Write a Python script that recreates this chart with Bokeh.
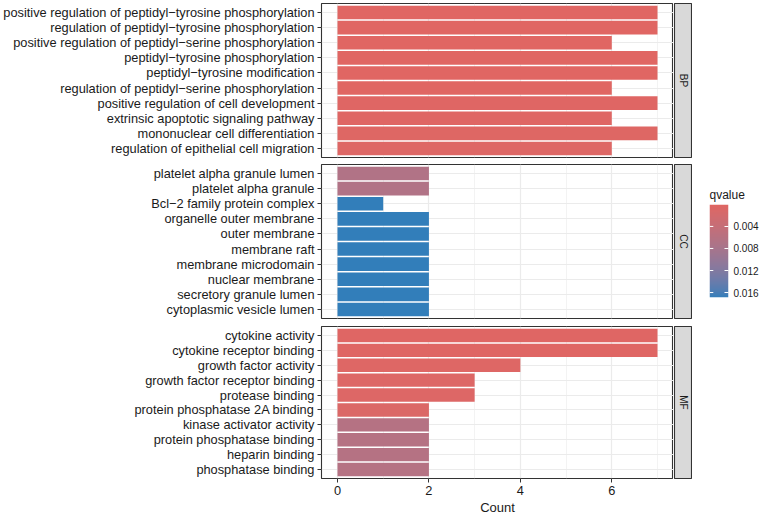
import numpy as np
from bokeh.plotting import figure
from bokeh.layouts import row, column
from bokeh.models import (ColumnDataSource, FactorRange, Range1d, LinearColorMapper,
                          FixedTicker, PrintfTickFormatter)
from bokeh.transform import transform
from bokeh.embed import file_html
from bokeh.resources import INLINE
from bokeh.core.properties import value

# ---- enrichment results (top to bottom within each ontology) ----
ontologies = ["BP", "CC", "MF"]

bp_terms = [
    "positive regulation of peptidyl\u2212tyrosine phosphorylation",
    "regulation of peptidyl\u2212tyrosine phosphorylation",
    "positive regulation of peptidyl\u2212serine phosphorylation",
    "peptidyl\u2212tyrosine phosphorylation",
    "peptidyl\u2212tyrosine modification",
    "regulation of peptidyl\u2212serine phosphorylation",
    "positive regulation of cell development",
    "extrinsic apoptotic signaling pathway",
    "mononuclear cell differentiation",
    "regulation of epithelial cell migration",
]
bp_count = [7, 7, 6, 7, 7, 6, 7, 6, 7, 6]
bp_qvalue = [0.00002, 0.00003, 0.00008, 0.00010, 0.00010, 0.00015, 0.00020, 0.00025, 0.00030, 0.00035]

cc_terms = [
    "platelet alpha granule lumen",
    "platelet alpha granule",
    "Bcl\u22122 family protein complex",
    "organelle outer membrane",
    "outer membrane",
    "membrane raft",
    "membrane microdomain",
    "nuclear membrane",
    "secretory granule lumen",
    "cytoplasmic vesicle lumen",
]
cc_count = [2, 2, 1, 2, 2, 2, 2, 2, 2, 2]
cc_qvalue = [0.0068, 0.0068, 0.0169, 0.0169, 0.0169, 0.0169, 0.0169, 0.0169, 0.0169, 0.0169]

mf_terms = [
    "cytokine activity",
    "cytokine receptor binding",
    "growth factor activity",
    "growth factor receptor binding",
    "protease binding",
    "protein phosphatase 2A binding",
    "kinase activator activity",
    "protein phosphatase binding",
    "heparin binding",
    "phosphatase binding",
]
mf_count = [7, 7, 4, 3, 3, 2, 2, 2, 2, 2]
mf_qvalue = [0.0002, 0.0002, 0.0004, 0.0006, 0.0006, 0.0008, 0.0062, 0.0062, 0.0062, 0.0062]

x_ticks = [0, 2, 4, 6]
x_minor_ticks = [1, 3, 5, 7]
qvalue_ticks = [0.004, 0.008, 0.012, 0.016]

LOW_COLOR = "#E06663"
HIGH_COLOR = "#327EBA"
FONT = "Liberation Sans"
TEXT_COLOR = "#1A1A1A"


# ---- gradient interpolated in CIE Lab space ----
_M = np.array([[0.4124564, 0.3575761, 0.1804375],
               [0.2126729, 0.7151522, 0.0721750],
               [0.0193339, 0.1191920, 0.9503041]])
_WHITE = np.array([0.95047, 1.0, 1.08883])


def _hex_to_rgb(h):
    h = h.lstrip("#")
    return np.array([int(h[i:i + 2], 16) for i in (0, 2, 4)]) / 255.0


def _rgb_to_lab(rgb):
    lin = np.where(rgb <= 0.04045, rgb / 12.92, ((rgb + 0.055) / 1.055) ** 2.4)
    xyz = _M @ lin / _WHITE
    d = 6 / 29
    f = np.where(xyz > d ** 3, np.cbrt(xyz), xyz / (3 * d * d) + 4 / 29)
    return np.array([116 * f[1] - 16, 500 * (f[0] - f[1]), 200 * (f[1] - f[2])])


def _lab_to_hex(lab):
    L, a, b = lab
    fy = (L + 16) / 116
    f = np.array([fy + a / 500, fy, fy - b / 200])
    d = 6 / 29
    xyz = np.where(f > d, f ** 3, 3 * d * d * (f - 4 / 29)) * _WHITE
    lin = np.linalg.solve(_M, xyz)
    lin = np.clip(lin, 0, 1)
    rgb = np.where(lin <= 0.0031308, 12.92 * lin, 1.055 * lin ** (1 / 2.4) - 0.055)
    r, g, bb = (np.clip(np.round(rgb * 255), 0, 255)).astype(int)
    return "#%02x%02x%02x" % (r, g, bb)


lab_lo = _rgb_to_lab(_hex_to_rgb(LOW_COLOR))
lab_hi = _rgb_to_lab(_hex_to_rgb(HIGH_COLOR))
palette = [_lab_to_hex(lab_lo + (lab_hi - lab_lo) * t) for t in np.linspace(0, 1, 256)]

all_q = bp_qvalue + cc_qvalue + mf_qvalue
q_min, q_max = min(all_q), max(all_q)
fill_mapper = LinearColorMapper(palette=palette, low=q_min, high=q_max)

all_counts = bp_count + cc_count + mf_count
x_pad = 0.05 * max(all_counts)

PANEL_W = 673
LEFT = 321


def make_panel(terms, counts, qvalues, height, top, bottom, show_x):
    src = ColumnDataSource(dict(term=terms, count=counts, q=qvalues))
    p = figure(width=PANEL_W, height=height,
               y_range=FactorRange(factors=terms[::-1], range_padding=0.02),
               x_range=Range1d(-x_pad, max(all_counts) + x_pad),
               output_backend="svg", toolbar_location=None,
               min_border_left=LEFT, min_border_right=0,
               min_border_top=top, min_border_bottom=bottom)
    p.hbar(y="term", left=0, right="count", height=0.9, source=src,
           fill_color=transform("q", fill_mapper), line_color=None)

    ticker = FixedTicker(ticks=x_ticks, minor_ticks=x_minor_ticks)
    p.xaxis.ticker = ticker
    p.xgrid.ticker = ticker
    p.xgrid.grid_line_color = "#EBEBEB"
    p.xgrid.grid_line_width = 1.2
    p.xgrid.minor_grid_line_color = "#EBEBEB"
    p.xgrid.minor_grid_line_width = 0.6
    p.ygrid.grid_line_color = "#EBEBEB"
    p.ygrid.grid_line_width = 1.2

    p.yaxis.axis_line_color = None
    p.yaxis.major_tick_line_color = "#333333"
    p.yaxis.major_tick_out = 4
    p.yaxis.major_tick_in = 0
    p.yaxis.minor_tick_line_color = None
    p.yaxis.major_label_standoff = 3
    p.yaxis.major_label_text_font = FONT
    p.yaxis.major_label_text_font_size = "12.8px"
    p.yaxis.major_label_text_color = TEXT_COLOR

    if show_x:
        p.xaxis.axis_line_color = None
        p.xaxis.major_tick_line_color = "#333333"
        p.xaxis.major_tick_out = 4
        p.xaxis.major_tick_in = 0
        p.xaxis.minor_tick_line_color = None
        p.xaxis.major_label_standoff = 3
        p.xaxis.major_label_text_font = FONT
        p.xaxis.major_label_text_font_size = "12.8px"
        p.xaxis.major_label_text_color = TEXT_COLOR
        p.xaxis.axis_label = "Count"
        p.xaxis.axis_label_text_font = FONT
        p.xaxis.axis_label_text_font_size = "13px"
        p.xaxis.axis_label_text_font_style = "normal"
        p.xaxis.axis_label_text_color = TEXT_COLOR
        p.xaxis.axis_label_standoff = 2
    else:
        p.xaxis.visible = False

    p.outline_line_color = "#333333"
    p.outline_line_width = 1.1
    p.background_fill_color = "white"
    p.border_fill_color = "white"
    return p


def make_strip(label, height, top, bottom):
    s = figure(width=19, height=height, x_range=Range1d(0, 1), y_range=Range1d(0, 1),
               x_axis_type=None, y_axis_type=None,
               output_backend="svg", toolbar_location=None,
               min_border_left=1, min_border_right=0,
               min_border_top=top, min_border_bottom=bottom)
    s.background_fill_color = "#D9D9D9"
    s.border_fill_color = "white"
    s.outline_line_color = "#333333"
    s.outline_line_width = 1.1
    s.text(x=[0.5], y=[0.5], text=[label], angle=-np.pi / 2,
           text_align="center", text_baseline="middle",
           text_font=value(FONT), text_font_size="10px", text_color=TEXT_COLOR)
    return s


specs = [
    (bp_terms, bp_count, bp_qvalue, 160, 3, 3, False),
    (cc_terms, cc_count, cc_qvalue, 162, 4, 4, False),
    (mf_terms, mf_count, mf_qvalue, 195, 4, 37, True),
]

rows = []
for name, (terms, counts, qs, h, top, bottom, show_x) in zip(ontologies, specs):
    panel = make_panel(terms, counts, qs, h, top, bottom, show_x)
    strip = make_strip(name, h, top, bottom)
    rows.append(row(panel, strip, spacing=0))

# ---- colour bar legend: q axis runs downward, smallest q at the top ----
leg = figure(width=72, height=517, x_range=Range1d(0, 1), y_range=Range1d(q_max, q_min),
             x_axis_type=None, y_axis_location="right",
             output_backend="svg", toolbar_location=None,
             min_border_left=17, min_border_right=36, min_border_top=204, min_border_bottom=220)
leg.image(image=[np.linspace(q_min, q_max, 256).reshape(-1, 1)], x=0, y=q_min,
          dw=1, dh=q_max - q_min, color_mapper=fill_mapper)
# white tick marks across the left edge of the bar
leg.segment(x0=0, x1=0.2, y0=qvalue_ticks, y1=qvalue_ticks, line_color="white", line_width=1)
leg.grid.visible = False
leg.outline_line_color = None
leg.background_fill_color = "white"
leg.border_fill_color = "white"

ax = leg.yaxis[0]
ax.ticker = FixedTicker(ticks=qvalue_ticks)
ax.formatter = PrintfTickFormatter(format="%.3f")
ax.axis_line_color = None
ax.major_tick_line_color = "white"
ax.major_tick_in = 4
ax.major_tick_out = 0
ax.minor_tick_line_color = None
ax.major_label_standoff = 5
ax.major_label_text_font = FONT
ax.major_label_text_font_size = "10px"
ax.major_label_text_color = TEXT_COLOR

leg.title.text = "qvalue"
leg.title.align = "left"
leg.title.text_font = FONT
leg.title.text_font_size = "12px"
leg.title.text_font_style = "normal"
leg.title.text_color = TEXT_COLOR
leg.title.standoff = 6
leg.title.offset = 0

layout = row(column(*rows, spacing=0), leg, spacing=0)

with open("out.html", "w") as f:
    f.write(file_html(layout, INLINE))
